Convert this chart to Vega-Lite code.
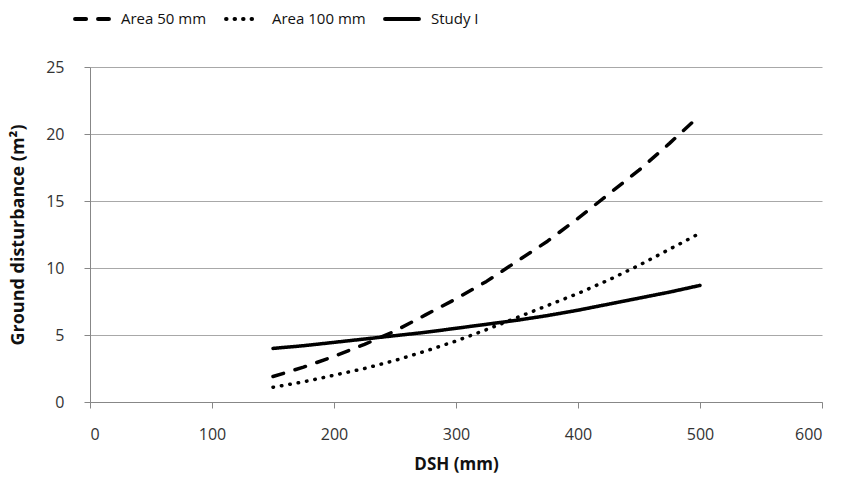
{
  "$schema": "https://vega.github.io/schema/vega-lite/v6.json",
  "autosize": "none",
  "width": 732,
  "height": 335,
  "padding": {"left": 90, "top": 67, "right": 21, "bottom": 82},
  "background": "white",
  "config": {
    "view": {"stroke": null},
    "font": "Open Sans, sans-serif",
    "axis": {"labelFont": "Open Sans, sans-serif", "titleFont": "Open Sans, sans-serif"},
    "legend": {"labelFont": "Open Sans, sans-serif"}
  },
  "data": {
    "values": [
      {"dsh": 150, "series": "Area 50 mm", "value": 1.9},
      {"dsh": 175, "series": "Area 50 mm", "value": 2.6},
      {"dsh": 200, "series": "Area 50 mm", "value": 3.4},
      {"dsh": 225, "series": "Area 50 mm", "value": 4.3},
      {"dsh": 250, "series": "Area 50 mm", "value": 5.3},
      {"dsh": 275, "series": "Area 50 mm", "value": 6.5},
      {"dsh": 300, "series": "Area 50 mm", "value": 7.7},
      {"dsh": 325, "series": "Area 50 mm", "value": 9.0},
      {"dsh": 350, "series": "Area 50 mm", "value": 10.5},
      {"dsh": 375, "series": "Area 50 mm", "value": 12.0},
      {"dsh": 400, "series": "Area 50 mm", "value": 13.7},
      {"dsh": 425, "series": "Area 50 mm", "value": 15.5},
      {"dsh": 450, "series": "Area 50 mm", "value": 17.3},
      {"dsh": 475, "series": "Area 50 mm", "value": 19.3},
      {"dsh": 500, "series": "Area 50 mm", "value": 21.4},
      {"dsh": 150, "series": "Area 100 mm", "value": 1.1},
      {"dsh": 175, "series": "Area 100 mm", "value": 1.5},
      {"dsh": 200, "series": "Area 100 mm", "value": 2.0},
      {"dsh": 225, "series": "Area 100 mm", "value": 2.5},
      {"dsh": 250, "series": "Area 100 mm", "value": 3.1},
      {"dsh": 275, "series": "Area 100 mm", "value": 3.8},
      {"dsh": 300, "series": "Area 100 mm", "value": 4.55},
      {"dsh": 325, "series": "Area 100 mm", "value": 5.4},
      {"dsh": 350, "series": "Area 100 mm", "value": 6.3},
      {"dsh": 375, "series": "Area 100 mm", "value": 7.2},
      {"dsh": 400, "series": "Area 100 mm", "value": 8.1},
      {"dsh": 425, "series": "Area 100 mm", "value": 9.1},
      {"dsh": 450, "series": "Area 100 mm", "value": 10.2},
      {"dsh": 475, "series": "Area 100 mm", "value": 11.4},
      {"dsh": 500, "series": "Area 100 mm", "value": 12.6},
      {"dsh": 150, "series": "Study I", "value": 4.0},
      {"dsh": 175, "series": "Study I", "value": 4.2},
      {"dsh": 200, "series": "Study I", "value": 4.45},
      {"dsh": 225, "series": "Study I", "value": 4.7},
      {"dsh": 250, "series": "Study I", "value": 4.95},
      {"dsh": 275, "series": "Study I", "value": 5.2},
      {"dsh": 300, "series": "Study I", "value": 5.5},
      {"dsh": 325, "series": "Study I", "value": 5.8},
      {"dsh": 350, "series": "Study I", "value": 6.1},
      {"dsh": 375, "series": "Study I", "value": 6.45},
      {"dsh": 400, "series": "Study I", "value": 6.85},
      {"dsh": 425, "series": "Study I", "value": 7.3},
      {"dsh": 450, "series": "Study I", "value": 7.75},
      {"dsh": 475, "series": "Study I", "value": 8.2},
      {"dsh": 500, "series": "Study I", "value": 8.7}
    ]
  },
  "mark": {"type": "line", "color": "black", "strokeWidth": 3.5, "strokeCap": "round", "strokeJoin": "round"},
  "encoding": {
    "x": {
      "field": "dsh", "type": "quantitative",
      "scale": {"domain": [0, 600], "nice": false},
      "axis": {
        "title": "DSH (mm)", "values": [0, 100, 200, 300, 400, 500, 600],
        "grid": false, "domainColor": "#878787", "tickColor": "#878787", "tickSize": 6,
        "labelFontSize": 16, "labelColor": "#333333", "labelPadding": 18,
        "titleFontSize": 17, "titleFontWeight": "bold", "titleColor": "#111111", "titlePadding": 14
      }
    },
    "y": {
      "field": "value", "type": "quantitative",
      "scale": {"domain": [0, 25], "nice": false},
      "axis": {
        "title": "Ground disturbance (m²)", "values": [0, 5, 10, 15, 20, 25],
        "grid": true, "gridColor": "#a8a8a8", "gridWidth": 1.2,
        "domainColor": "#878787", "tickColor": "#878787", "tickSize": 6,
        "labelFontSize": 16, "labelColor": "#333333", "labelPadding": 20,
        "titleFontSize": 18, "titleFontWeight": "bold", "titleColor": "#111111", "titlePadding": 18
      }
    },
    "detail": {"field": "series"},
    "strokeDash": {
      "field": "series", "type": "nominal",
      "scale": {"domain": ["Area 50 mm", "Area 100 mm", "Study I"], "range": [[11, 12], [0.5, 8], [1, 0]]},
      "legend": {
        "title": null, "orient": "none", "direction": "horizontal",
        "legendX": -17, "legendY": -67,
        "symbolType": "stroke", "symbolSize": 1150, "symbolStrokeWidth": 4, "symbolStrokeColor": "black",
        "labelFontSize": 15, "labelColor": "#111111", "columnPadding": 11, "labelOffset": 10,
        "encode": {"symbols": {"update": {"strokeCap": {"value": "round"}}}}
      }
    }
  }
}
